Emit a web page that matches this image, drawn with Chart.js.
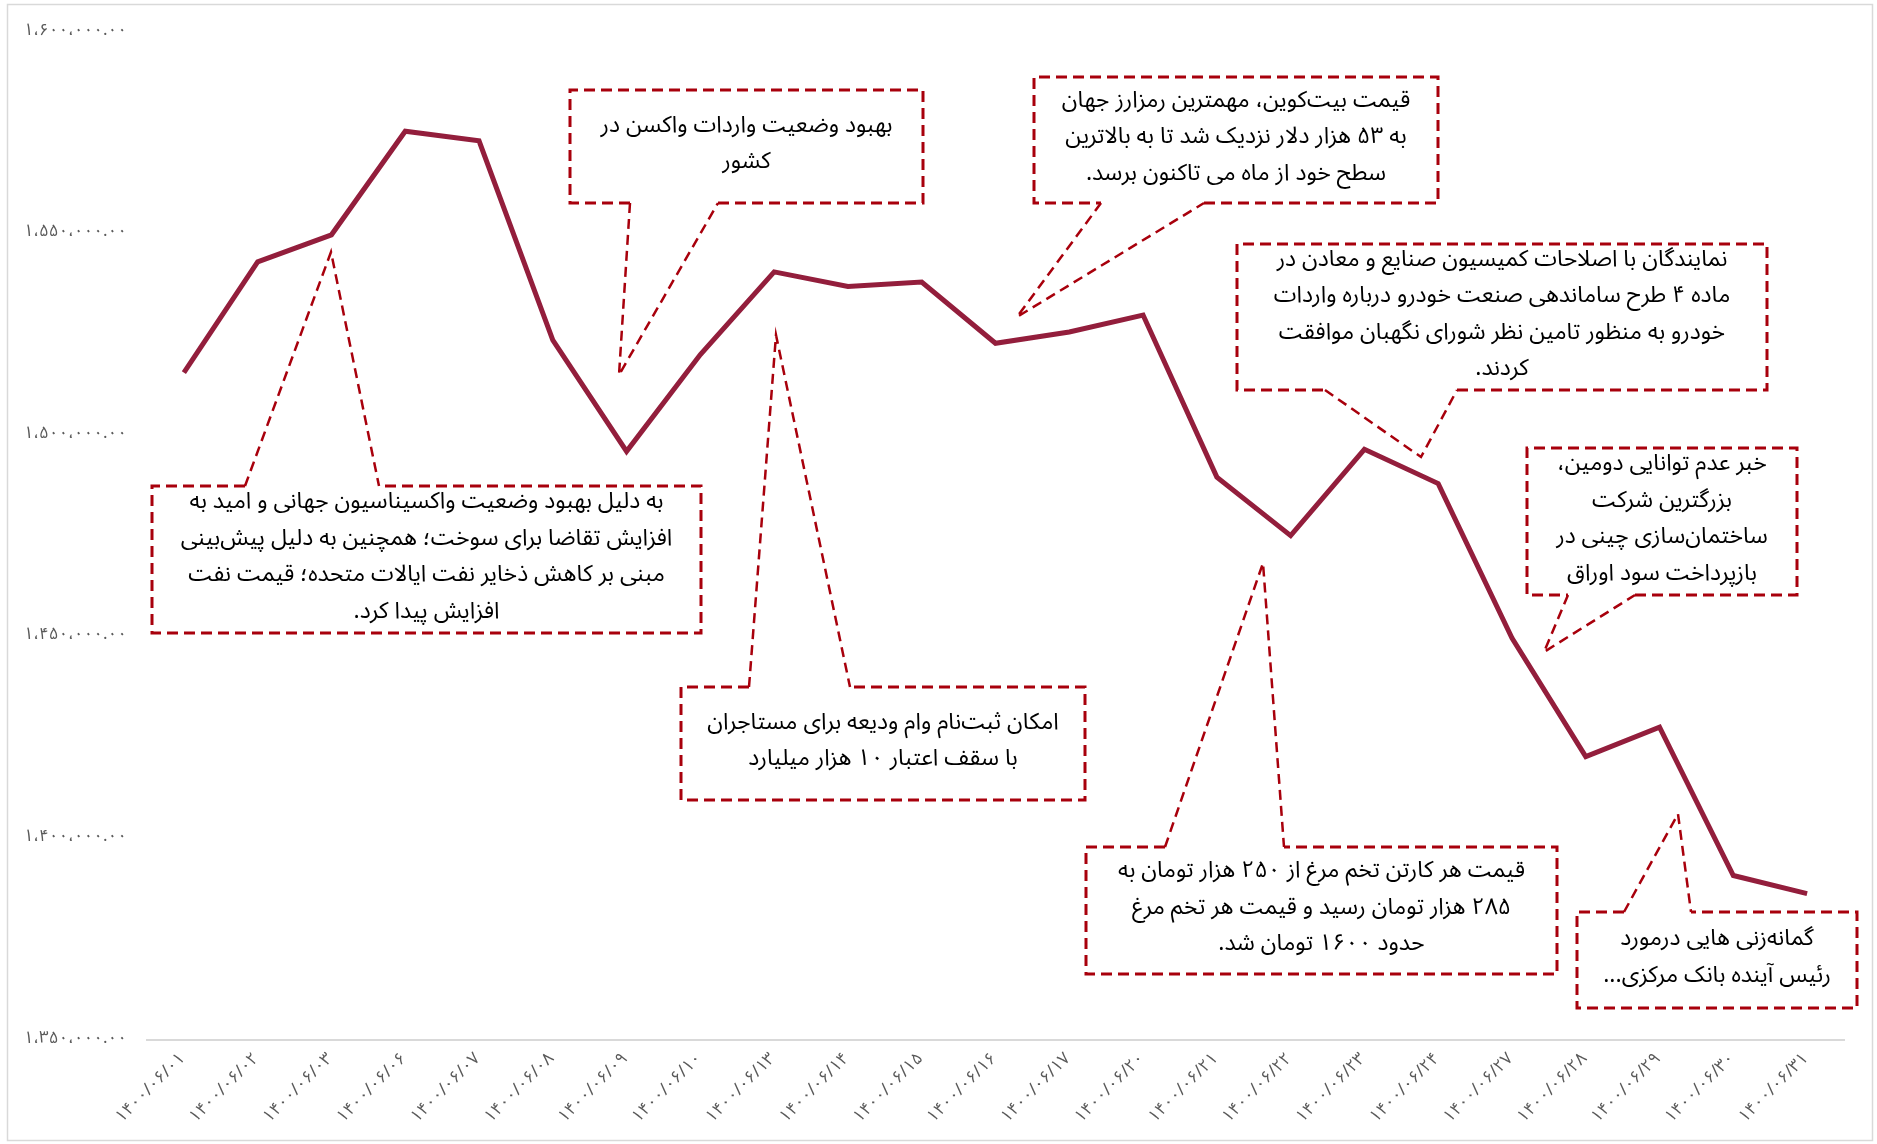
<!DOCTYPE html>
<html lang="fa">
<head>
  <meta charset="UTF-8">
  <title>نمودار</title>
  <script src="https://cdn.jsdelivr.net/npm/chart.js"></script>
  <style>
    body { margin: 0; background: #fff; }
    canvas { display: block; }
  </style>
</head>
<body>
  <canvas id="chart" width="1877" height="1144"></canvas>

  <script>
    // dates (x axis) and closing values
    const dates = [
      '۱۴۰۰/۰۶/۰۱', '۱۴۰۰/۰۶/۰۲', '۱۴۰۰/۰۶/۰۳', '۱۴۰۰/۰۶/۰۶', '۱۴۰۰/۰۶/۰۷',
      '۱۴۰۰/۰۶/۰۸', '۱۴۰۰/۰۶/۰۹', '۱۴۰۰/۰۶/۱۰', '۱۴۰۰/۰۶/۱۳', '۱۴۰۰/۰۶/۱۴',
      '۱۴۰۰/۰۶/۱۵', '۱۴۰۰/۰۶/۱۶', '۱۴۰۰/۰۶/۱۷', '۱۴۰۰/۰۶/۲۰', '۱۴۰۰/۰۶/۲۱',
      '۱۴۰۰/۰۶/۲۲', '۱۴۰۰/۰۶/۲۳', '۱۴۰۰/۰۶/۲۴', '۱۴۰۰/۰۶/۲۷', '۱۴۰۰/۰۶/۲۸',
      '۱۴۰۰/۰۶/۲۹', '۱۴۰۰/۰۶/۳۰', '۱۴۰۰/۰۶/۳۱'
    ];
    const values = [
      1515500, 1543000, 1549700, 1575400, 1573000,
      1523600, 1496000, 1520000, 1540500, 1536900,
      1538000, 1522800, 1525600, 1529800, 1489600,
      1475100, 1496500, 1488000, 1449700, 1420300,
      1427600, 1390800, 1386300
    ];
    const yMin = 1350000;
    const yMax = 1600000;
    const yStep = 50000;

    // callout notes: text lines, box [x1,y1,x2,y2], tip, gap on edge
    const notes = [
      { lines: ['به دلیل بهبود وضعیت واکسیناسیون جهانی و امید به',
                'افزایش تقاضا برای سوخت؛ همچنین به دلیل پیش‌بینی',
                'مبنی بر کاهش ذخایر نفت ایالات متحده؛ قیمت نفت',
                'افزایش پیدا کرد.'],
        box: [152, 486, 701, 633], tip: [331, 252], gap: [245, 379], side: 'top' },
      { lines: ['بهبود وضعیت واردات واکسن در', 'کشور'],
        box: [570, 90, 923, 203], tip: [619, 375], gap: [630, 718], side: 'bottom' },
      { lines: ['قیمت بیت‌کوین، مهمترین رمزارز جهان',
                'به ۵۳ هزار دلار نزدیک شد تا به بالاترین',
                'سطح خود از ماه می تاکنون برسد.'],
        box: [1034, 77, 1438, 203], tip: [1017, 317], gap: [1101, 1204], side: 'bottom' },
      { lines: ['نمایندگان با اصلاحات کمیسیون صنایع و معادن در',
                'ماده ۴ طرح ساماندهی صنعت خودرو درباره واردات',
                'خودرو به منظور تامین نظر شورای نگهبان موافقت',
                'کردند.'],
        box: [1237, 244, 1767, 390], tip: [1421, 457], gap: [1325, 1457], side: 'bottom' },
      { lines: ['خبر عدم توانایی دومین،', 'بزرگترین شرکت',
                'ساختمان‌سازی چینی در', 'بازپرداخت سود اوراق'],
        box: [1527, 448, 1797, 595], tip: [1544, 652], gap: [1568, 1635], side: 'bottom' },
      { lines: ['امکان ثبت‌نام وام ودیعه برای مستاجران', 'با سقف اعتبار ۱۰ هزار میلیارد'],
        box: [681, 687, 1085, 800], tip: [776, 335], gap: [749, 850], side: 'top' },
      { lines: ['قیمت هر کارتن تخم مرغ از ۲۵۰ هزار تومان به',
                '۲۸۵ هزار تومان رسید و قیمت هر تخم مرغ',
                'حدود ۱۶۰۰ تومان شد.'],
        box: [1086, 847, 1557, 974], tip: [1263, 563], gap: [1165, 1284], side: 'top' },
      { lines: ['گمانه‌زنی هایی درمورد', 'رئیس آینده بانک مرکزی...'],
        box: [1577, 912, 1857, 1008], tip: [1678, 814], gap: [1624, 1691], side: 'top' }
    ];

    const FONT = '"Noto Sans Arabic", "DejaVu Sans", sans-serif';
    const faDigits = s => String(s).replace(/\d/g, d => '۰۱۲۳۴۵۶۷۸۹'[d]);
    const fmtY = v => {
      const parts = Math.round(v).toString().replace(/\B(?=(\d{3})+(?!\d))/g, '،');
      return faDigits(parts + '.00');
    };

    const calloutPlugin = {
      id: 'callouts',
      beforeDraw(chart) {
        const ctx = chart.ctx;
        ctx.save();
        ctx.fillStyle = '#fff';
        ctx.fillRect(0, 0, chart.width, chart.height);
        ctx.strokeStyle = '#d9d9d9';
        ctx.lineWidth = 1.5;
        ctx.strokeRect(7.5, 4.5, 1865, 1136);
        ctx.restore();
      },
      afterDatasetsDraw(chart) {
        const ctx = chart.ctx;
        ctx.save();
        notes.forEach(n => {
          const [x1, y1, x2, y2] = n.box;
          ctx.fillStyle = '#fff';
          ctx.fillRect(x1, y1, x2 - x1, y2 - y1);
          ctx.strokeStyle = '#a8000c';
          ctx.lineWidth = 3;
          ctx.setLineDash([11, 6]);
          const ey = n.side === 'top' ? y1 : y2;
          ctx.beginPath();
          if (n.side === 'top') {
            ctx.moveTo(n.gap[0], y1);
            ctx.lineTo(x1, y1); ctx.lineTo(x1, y2); ctx.lineTo(x2, y2); ctx.lineTo(x2, y1);
            ctx.lineTo(n.gap[1], y1);
          } else {
            ctx.moveTo(n.gap[1], y2);
            ctx.lineTo(x2, y2); ctx.lineTo(x2, y1); ctx.lineTo(x1, y1); ctx.lineTo(x1, y2);
            ctx.lineTo(n.gap[0], y2);
          }
          ctx.stroke();
          ctx.lineWidth = 2.5;
          ctx.setLineDash([10, 6]);
          ctx.beginPath();
          ctx.moveTo(n.gap[0], ey);
          ctx.lineTo(n.tip[0], n.tip[1]);
          ctx.lineTo(n.gap[1], ey);
          ctx.stroke();

          ctx.setLineDash([]);
          ctx.fillStyle = '#000';
          ctx.font = '23px ' + FONT;
          ctx.direction = 'rtl';
          ctx.textAlign = 'center';
          ctx.textBaseline = 'middle';
          const lh = 36.5;
          const cy = (y1 + y2) / 2 - (n.lines.length - 1) * lh / 2;
          n.lines.forEach((t, i) => ctx.fillText(t, (x1 + x2) / 2, cy + i * lh));
        });
        ctx.restore();
      }
    };

    new Chart(document.getElementById('chart'), {
      type: 'line',
      data: {
        labels: dates,
        datasets: [{
          data: values,
          borderColor: '#931e3c',
          borderWidth: 5,
          pointRadius: 0,
          tension: 0,
          fill: false
        }]
      },
      options: {
        responsive: false,
        animation: false,
        devicePixelRatio: 1,
        layout: { padding: { left: 20, top: 32, right: 33, bottom: 0 } },
        plugins: { legend: { display: false }, tooltip: { enabled: false } },
        scales: {
          x: {
            offset: true,
            grid: { display: false, drawTicks: false },
            border: { color: '#d9d9d9', width: 2 },
            ticks: {
              color: '#595959',
              font: { size: 17, family: FONT },
              maxRotation: 45, minRotation: 45,
              autoSkip: false,
              padding: 10
            },
            afterFit: s => { s.height = 104; }
          },
          y: {
            min: yMin, max: yMax,
            grid: { display: false, drawTicks: false },
            border: { display: false },
            ticks: {
              stepSize: yStep,
              color: '#595959',
              font: { size: 17, family: FONT },
              padding: 20,
              callback: v => fmtY(v)
            },
            afterFit: s => { s.width = 127; }
          }
        }
      },
      plugins: [calloutPlugin]
    });
  </script>
</body>
</html>
